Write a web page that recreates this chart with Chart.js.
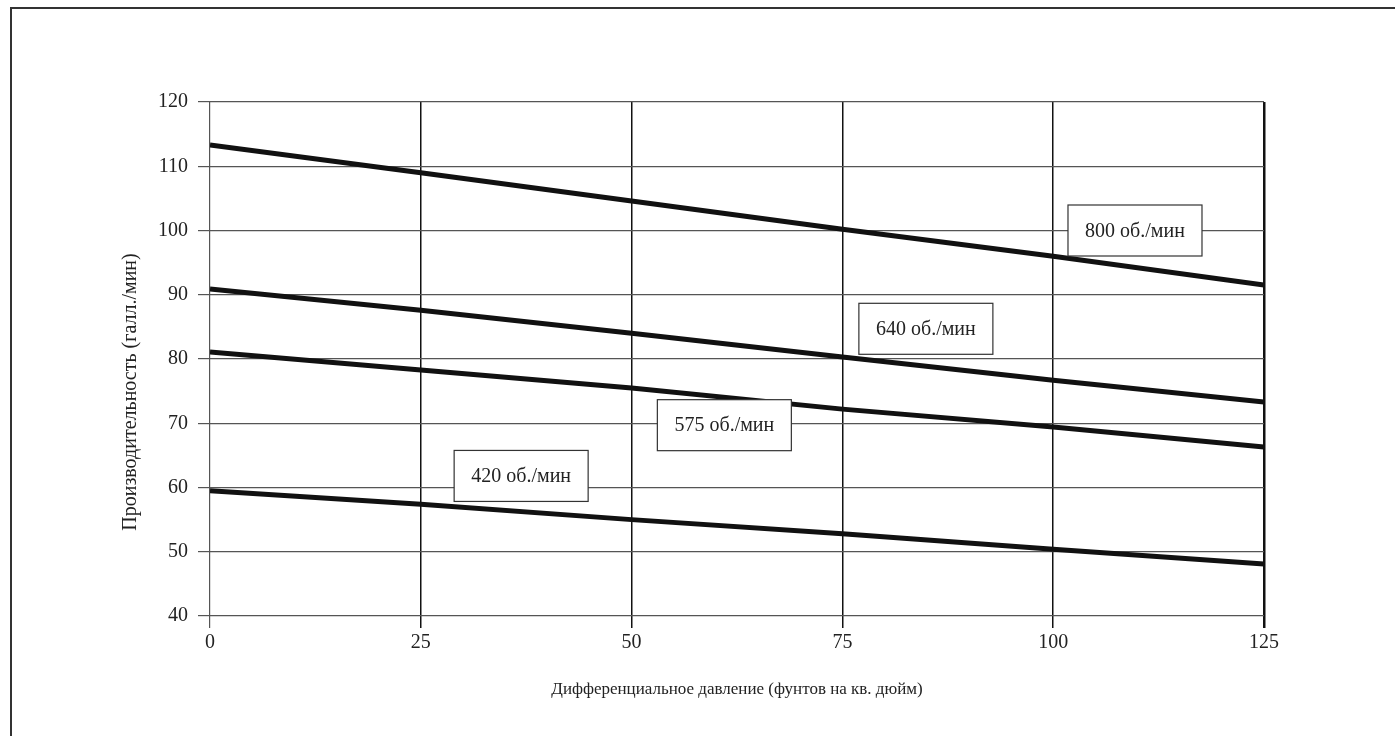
<!DOCTYPE html>
<html>
<head>
<meta charset="utf-8">
<script src="https://cdn.jsdelivr.net/npm/chart.js@4.4.1/dist/chart.umd.min.js"></script>
<style>
  html, body { margin: 0; padding: 0; background: #fff; overflow: hidden; }
  #frame {
    position: absolute; left: 10px; top: 7px;
    width: 1400px; height: 740px;
    border: 2px solid #333;
  }
  #wrap { position: absolute; left: 0; top: 0; width: 1395px; height: 736px; }
</style>
</head>
<body>
<div id="frame"></div>
<div id="wrap"><canvas id="chart"></canvas></div>
<script>
// ---------------------------------------------
// Data
// ---------------------------------------------

const pressure = [0, 25, 50, 75, 100, 125];

const rpm800 = [113.3, 109.0, 104.6, 100.2, 96.0, 91.5];
const rpm640 = [90.9, 87.6, 84.0, 80.3, 76.7, 73.3];
const rpm575 = [81.1, 78.3, 75.5, 72.2, 69.4, 66.3];
const rpm420 = [59.5, 57.4, 55.0, 52.8, 50.4, 48.1];

const seriesNames = ["800 об./мин", "640 об./мин", "575 об./мин", "420 об./мин"];
const labelX = [109.7, 84.9, 61.0, 36.9];
const labelY = [100.0, 84.7, 69.7, 61.8];

const xTitle = "Дифференциальное давление (фунтов на кв. дюйм)";
const yTitle = "Производительность (галл./мин)";

const FONT = "'Liberation Serif', 'Times New Roman', serif";

// ---------------------------------------------
// Label boxes + y title
// ---------------------------------------------

const labelBoxes = {
  id: "labelBoxes",
  afterDatasetsDraw(chart) {
    const ctx = chart.ctx;
    const xs = chart.scales.x, ys = chart.scales.y;
    ctx.save();
    ctx.font = "20px " + FONT;
    ctx.textAlign = "center";
    ctx.textBaseline = "middle";
    seriesNames.forEach((name, i) => {
      const cx = xs.getPixelForValue(labelX[i]);
      const cy = ys.getPixelForValue(labelY[i]);
      const w = 134, h = 51;
      ctx.fillStyle = "#fff";
      ctx.fillRect(cx - w / 2, cy - h / 2, w, h);
      ctx.strokeStyle = "#333";
      ctx.lineWidth = 1.2;
      ctx.strokeRect(cx - w / 2, cy - h / 2, w, h);
      ctx.fillStyle = "#222";
      ctx.fillText(name, cx, cy + 1);
    });

    // y axis title (sits a bit below the plot centre in the original)
    ctx.translate(131, 392);
    ctx.rotate(-Math.PI / 2);
    ctx.font = "20px " + FONT;
    ctx.fillText(yTitle, 0, 0);
    ctx.restore();
  }
};

// ---------------------------------------------
// Build chart
// ---------------------------------------------

function series(label, values) {
  return {
    label,
    data: pressure.map((p, i) => ({ x: p, y: values[i] })),
    borderColor: "#111",
    borderWidth: 5,
    pointRadius: 0,
    tension: 0
  };
}

new Chart(document.getElementById("chart"), {
  type: "line",
  data: {
    datasets: [
      series(seriesNames[0], rpm800),
      series(seriesNames[1], rpm640),
      series(seriesNames[2], rpm575),
      series(seriesNames[3], rpm420)
    ]
  },
  options: {
    responsive: true,
    maintainAspectRatio: false,
    animation: false,
    layout: { padding: { left: 100, top: 102, right: 131, bottom: 0 } },
    plugins: {
      legend: { display: false },
      tooltip: { enabled: false }
    },
    scales: {
      x: {
        type: "linear",
        min: 0,
        max: 125,
        afterFit: s => { s.height = 120; },
        ticks: {
          stepSize: 25,
          color: "#222",
          padding: 3,
          font: { family: FONT, size: 20 }
        },
        grid: {
          tickLength: 12,
          color: c => (c.tick.value === 0 ? "#555" : "#111"),
          lineWidth: c => (c.tick.value === 125 ? 2.5 : c.tick.value === 0 ? 1.2 : 1.5)
        },
        border: { display: false },
        title: {
          display: true,
          text: xTitle,
          color: "#222",
          font: { family: FONT, size: 17 },
          padding: { top: 0, bottom: 36 }
        }
      },
      y: {
        min: 40,
        max: 120,
        afterFit: s => { s.width = 110; },
        ticks: {
          stepSize: 10,
          color: "#222",
          padding: 10,
          font: { family: FONT, size: 20 }
        },
        grid: {
          tickLength: 12,
          color: "#555",
          lineWidth: 1.2
        },
        border: { display: false }
      }
    }
  },
  plugins: [labelBoxes]
});
</script>
</body>
</html>
